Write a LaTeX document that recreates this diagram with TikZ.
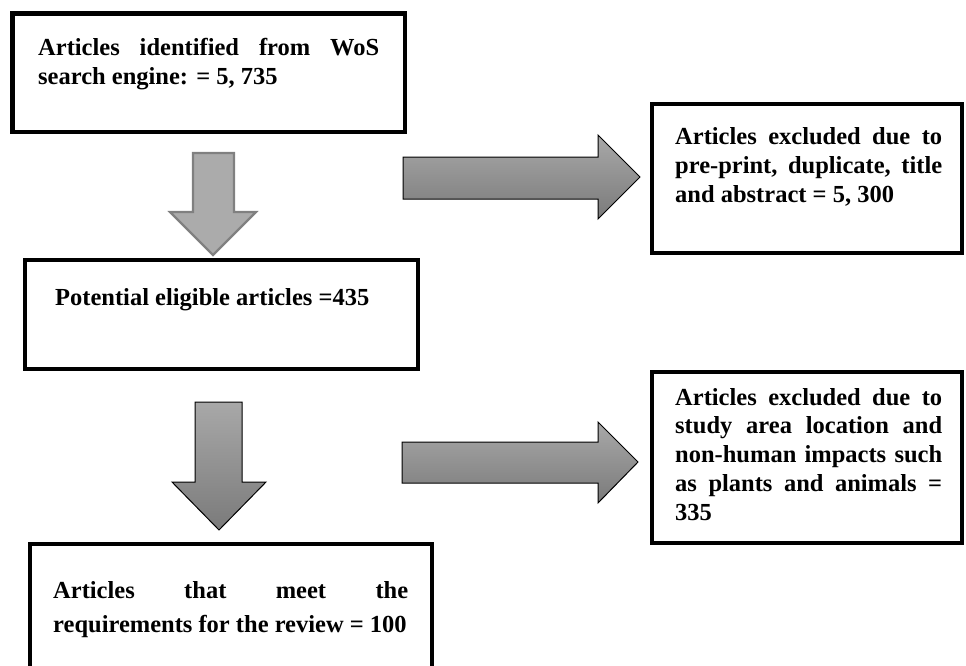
\documentclass[tikz,border=0pt]{standalone}
\usepackage{fontspec}
\setmainfont{Liberation Serif}
\usetikzlibrary{positioning}
\hyphenpenalty=10000
\exhyphenpenalty=10000
\tolerance=10000

\tikzset{
	box/.style={draw=black, line width=4.5pt, inner sep=0pt},
	thinbox/.style={draw=black, line width=3.5pt, inner sep=0pt},
	txt/.style={anchor=base west, inner sep=0pt, align=justify, font=\bfseries\fontsize{24.5}{28.8}\selectfont},
	lightarrow/.style={fill=gray!66, draw=gray, line width=2.2pt},
	darkarrow/.style={top color=black!34, bottom color=black!52, draw=black, line width=1pt}
}

\begin{document}
\begin{tikzpicture}[x=1pt,y=-1pt]
		\useasboundingbox (0,0) rectangle (966,666);
		% boxes
		\node[box, minimum width=392.5pt, minimum height=118.5pt] (ident) at (208.75,72.75) {};
		\node[thinbox, minimum width=310pt, minimum height=149pt] (excla) at (807,178.5) {};
		\node[box, minimum width=393pt, minimum height=109pt] (elig) at (221.5,314.5) {};
		\node[thinbox, minimum width=310pt, minimum height=171pt] (exclb) at (807,457.5) {};
		\node[thinbox, minimum width=402pt, minimum height=126pt] (incl) at (231,607) {};
		% texts
		\node[txt, text width=341pt] (identtxt) at (38,56) {Articles identified from WoS\linebreak search engine: = 5, 735};
		\node[txt, text width=267pt] (exclatxt) at (675,145) {Articles excluded due to\linebreak pre-print, duplicate, title\linebreak and abstract = 5, 300};
		\node[txt] (eligtxt) at (55,305) {Potential eligible articles =435};
		\node[txt, text width=267pt] (exclbtxt) at (675,405) {Articles excluded due to\linebreak study area location and\linebreak non-human impacts such\linebreak as plants and animals =\linebreak 335};
		\node[txt, text width=355pt, font=\bfseries\fontsize{24.5}{34}\selectfont] (incltxt) at (53,598) {Articles that meet the\linebreak requirements for the review = 100};
		% block arrows
		\draw[lightarrow] (193,153) -- (234,153) -- (234,212) -- (256,212) -- (213,255) -- (170,212) -- (193,212) -- cycle;
		\draw[darkarrow] (403,157) -- (598,157) -- (598,135) -- (640,177) -- (598,219) -- (598,199) -- (403,199) -- cycle;
		\draw[darkarrow] (195,402) -- (242,402) -- (242,482) -- (266,482) -- (219,530) -- (172,482) -- (195,482) -- cycle;
		\draw[darkarrow] (402,442) -- (598,442) -- (598,422) -- (638,462) -- (598,503) -- (598,483) -- (402,483) -- cycle;
		\end{tikzpicture}
\end{document}
